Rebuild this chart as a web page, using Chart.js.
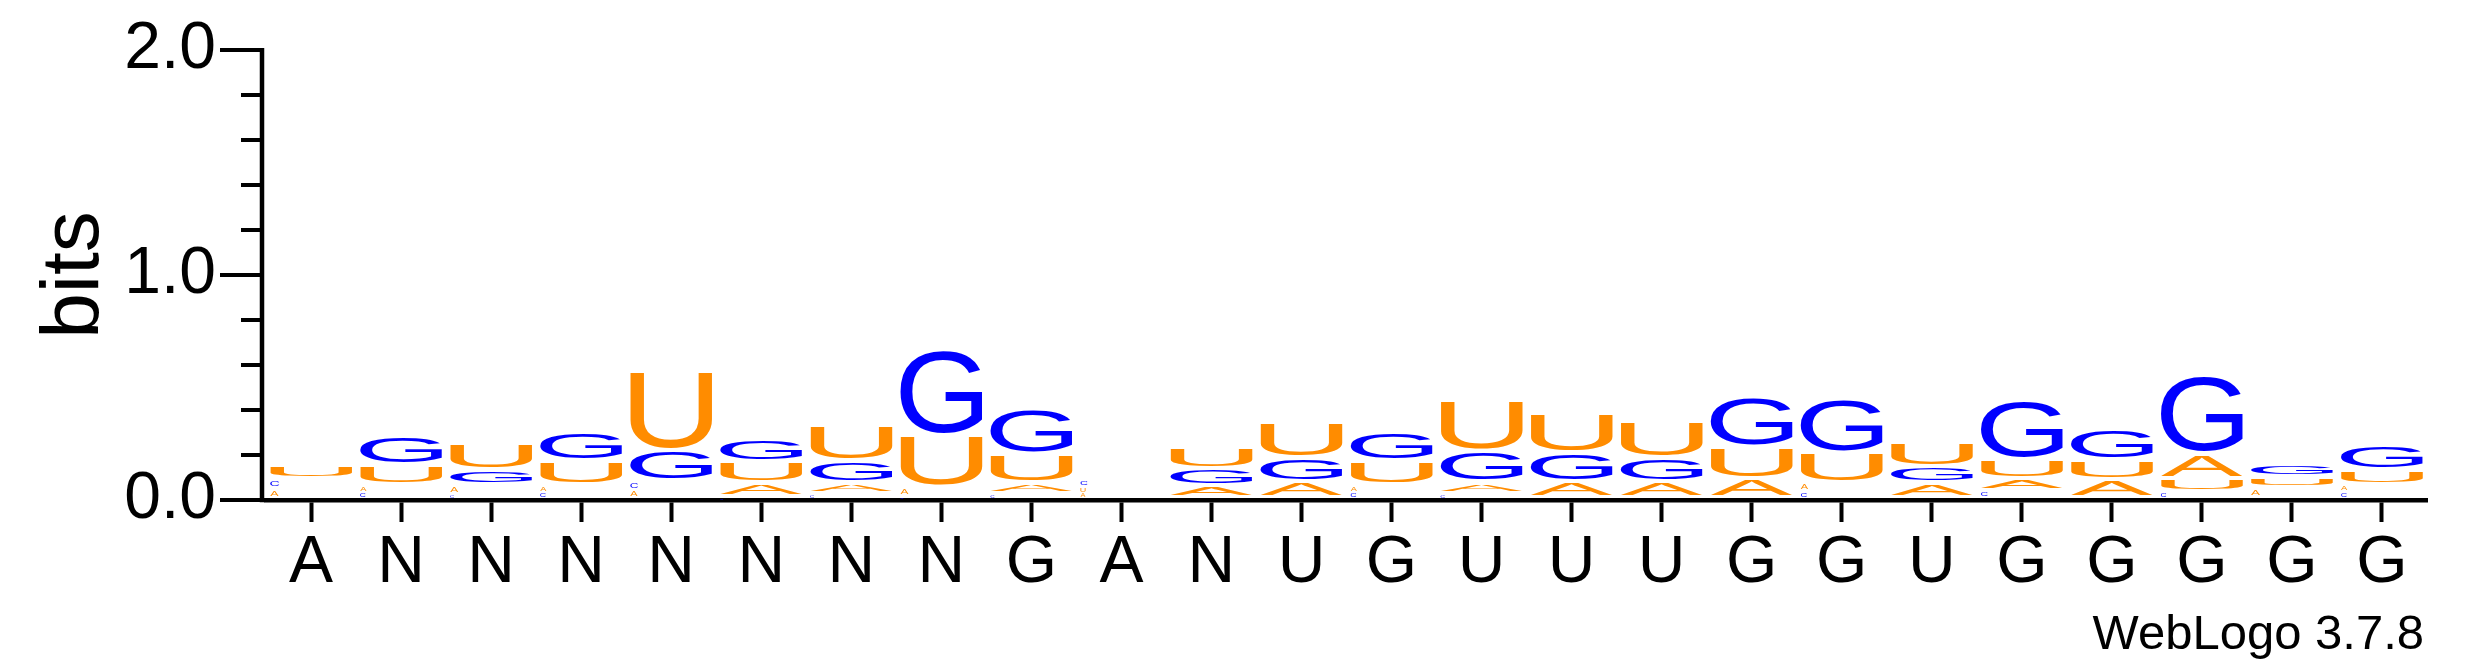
<!DOCTYPE html>
<html>
<head>
<meta charset="utf-8">
<script src="https://cdn.jsdelivr.net/npm/chart.js@4/dist/chart.umd.min.js"></script>
<style>
  html, body { margin: 0; padding: 0; background: #fff; }
  canvas { display: block; }
</style>
</head>
<body>
<canvas id="logo" width="2475" height="667"></canvas>
<script>
// position labels along the x axis
const positions = ['A', 'N', 'N', 'N', 'N', 'N', 'N', 'N', 'G', 'A', 'N', 'U',
    'G', 'U', 'U', 'U', 'G', 'G', 'U', 'G', 'G', 'G', 'G', 'G'];

// information (bits) carried by each base at each position
const bitsA = [0.042, 0.032, 0.040, 0.031, 0.037, 0.062, 0.049, 0.040, 0.048, 0.025, 0.053, 0.070,
    0.031, 0.048, 0.070, 0.070, 0.086, 0.037, 0.067, 0.052, 0.083, 0.111, 0.045, 0.032];
const bitsC = [0.045, 0.027, 0.019, 0.028, 0.039, 0.005, 0.019, 0.008, 0.020, 0.035, 0, 0,
    0.028, 0.022, 0, 0, 0, 0.030, 0, 0.034, 0, 0.027, 0, 0.028];
const bitsG = [0, 0.133, 0.067, 0.128, 0.135, 0.100, 0.098, 0.380, 0.203, 0, 0.076, 0.108,
    0.133, 0.138, 0.130, 0.108, 0.227, 0.240, 0.070, 0.267, 0.135, 0.345, 0.053, 0.114];
const bitsU = [0.061, 0.089, 0.119, 0.107, 0.356, 0.092, 0.160, 0.231, 0.127, 0.026, 0.093, 0.160,
    0.107, 0.229, 0.178, 0.166, 0.140, 0.133, 0.112, 0.088, 0.086, 0.058, 0.050, 0.067];

const yMax = 2.0;
const yStep = 0.2;

const baseColors = { A: '#FF8C00', U: '#FF8C00', G: '#0000FF', C: '#0000FF' };
const FONT = '"Liberation Sans", Arial, Helvetica, sans-serif';

Chart.defaults.font.family = FONT;
Chart.defaults.color = '#000';

// smallest letter at the bottom of each stack, largest on top
const series = { A: bitsA, C: bitsC, G: bitsG, U: bitsU };
const ranked = positions.map((p, i) =>
    Object.keys(series).map(b => ({ base: b, bits: series[b][i] })).sort((a, b) => a.bits - b.bits));

const dataSets = [0, 1, 2, 3].map(r => ({
    label: 'rank' + r,
    data: ranked.map(col => col[r].bits),
    letters: ranked.map(col => col[r].base),
    backgroundColor: 'rgba(0,0,0,0)',
    borderWidth: 0,
    categoryPercentage: 1.0,
    barPercentage: 0.908
}));

function drawGlyph(ctx, ch, color, left, top, w, h) {
    ctx.save();
    ctx.font = '200px ' + FONT;
    ctx.textAlign = 'left';
    ctx.textBaseline = 'alphabetic';
    const m = ctx.measureText(ch);
    const iw = m.actualBoundingBoxLeft + m.actualBoundingBoxRight;
    const ih = m.actualBoundingBoxAscent + m.actualBoundingBoxDescent;
    ctx.translate(left, top);
    ctx.scale(w / iw, h / ih);
    ctx.fillStyle = color;
    ctx.fillText(ch, m.actualBoundingBoxLeft, m.actualBoundingBoxAscent);
    ctx.restore();
}

const letterPlugin = {
    id: 'letters',
    afterDatasetsDraw(chart) {
        const ctx = chart.ctx;
        const y = chart.scales.y;
        const gapPx = y.getPixelForValue(0) - y.getPixelForValue(0.02);
        chart.data.datasets.forEach((ds, r) => {
            chart.getDatasetMeta(r).data.forEach((bar, i) => {
                if (!ds.data[i]) return;
                const top = bar.y, h = bar.base - bar.y;
                const gh = Math.max(1.2, h - Math.min(gapPx, h * 0.45));
                let w = bar.width;
                if (gh < 6) w = Math.max(3, gh * 1.6);
                drawGlyph(ctx, ds.letters[i], baseColors[ds.letters[i]], bar.x - bar.width / 2, top, w, gh);
            });
        });
    },
    afterDraw(chart) {
        const ctx = chart.ctx;
        const y = chart.scales.y;
        const xAxis = chart.chartArea.left - 4;
        ctx.save();
        ctx.strokeStyle = '#000';
        ctx.lineWidth = 4.5;
        ctx.beginPath();
        ctx.moveTo(xAxis, y.getPixelForValue(yMax) - 2);
        ctx.lineTo(xAxis, y.getPixelForValue(0) + 2.25);
        ctx.stroke();
        ctx.lineWidth = 4;
        y.ticks.forEach(t => {
            const major = Math.abs(t.value - Math.round(t.value)) < 1e-6;
            const py = y.getPixelForValue(t.value);
            ctx.beginPath();
            ctx.moveTo(xAxis, py);
            ctx.lineTo(xAxis - (major ? 42 : 21), py);
            ctx.stroke();
        });
        ctx.fillStyle = '#000';
        ctx.font = '49px ' + FONT;
        ctx.textAlign = 'right';
        ctx.textBaseline = 'alphabetic';
        ctx.fillText('WebLogo 3.7.8', 2424, 649);
        ctx.restore();
    }
};

const config = {
    type: 'bar',
    data: { labels: positions, datasets: dataSets },
    options: {
        responsive: false,
        animation: false,
        devicePixelRatio: 1,
        layout: { padding: { top: 50, right: 48, left: 0, bottom: 0 } },
        plugins: { legend: { display: false }, tooltip: { enabled: false } },
        scales: {
            x: {
                stacked: true,
                grid: { display: true, drawOnChartArea: false, offset: false, tickLength: 22, tickWidth: 4, tickColor: '#000' },
                border: { display: true, width: 4.5, color: '#000' },
                ticks: { font: { size: 66 }, color: '#000', padding: 2, autoSkip: false, maxRotation: 0 },
                afterFit: s => { s.height = 167; s.paddingLeft = 0; s.paddingRight = 0; }
            },
            y: {
                stacked: true,
                min: 0,
                max: yMax,
                grid: { display: false, drawTicks: false },
                border: { display: false },
                ticks: {
                    stepSize: yStep,
                    autoSkip: false,
                    padding: 50,
                    font: { size: 66 },
                    color: '#000',
                    callback: v => Math.abs(v - Math.round(v)) < 1e-6 ? v.toFixed(1) : ''
                },
                title: { display: true, text: 'bits', font: { size: 82 }, color: '#000', padding: { top: 26, bottom: 0 } },
                afterFit: s => { s.width = 266; s.paddingTop = 0; s.paddingBottom = 0; }
            }
        }
    },
    plugins: [letterPlugin]
};

const myChart = new Chart(document.getElementById('logo'), config);
</script>
</body>
</html>
